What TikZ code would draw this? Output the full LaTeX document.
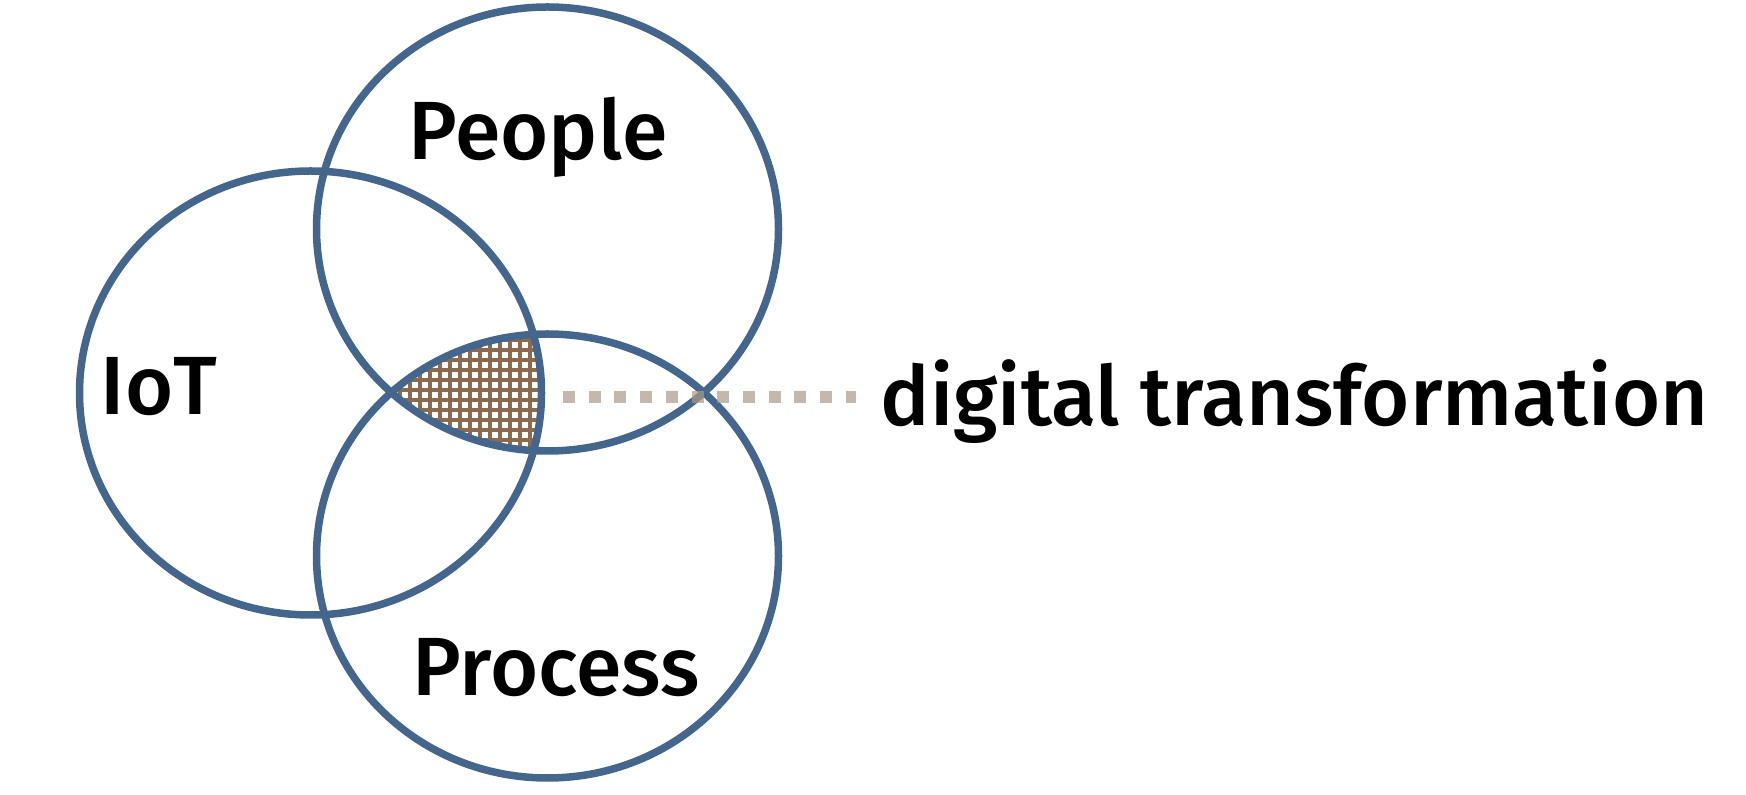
\documentclass[tikz,border=0pt]{standalone}
\usepackage{fontspec}
\setmainfont{Fira Sans Medium}
\usepackage{tikz}
\definecolor{venn}{RGB}{68,102,140}
\definecolor{hatch}{RGB}{139,106,79}
\definecolor{dots}{RGB}{171,152,135}

\begin{document}
\begin{tikzpicture}[line cap=round,line join=round,x=0.01cm,y=-0.01cm,
    word/.style={anchor=base west,inner sep=0pt,font=\fontsize{23.5}{28}\selectfont}]
    \useasboundingbox (0,0) rectangle (1746,795);
    % the part shared by all three
    \begin{scope}
        \clip (310.5,393) ellipse [x radius=231,y radius=222];
        \clip (547.5,229) ellipse [x radius=231,y radius=222];
        \clip (547.5,556) ellipse [x radius=231,y radius=222];
        \draw [hatch,line width=0.04cm,step=0.1cm,line cap=butt] (300,300) grid (600,500);
    \end{scope}
    \draw [venn,line width=0.075cm] (310.5,393) ellipse [x radius=231,y radius=222];
    \draw [venn,line width=0.075cm] (547.5,229) ellipse [x radius=231,y radius=222];
    \draw [venn,line width=0.075cm] (547.5,556) ellipse [x radius=231,y radius=222];
    \node [word] (iot) at (100,415) {IoT};
    \node [word] (people) at (408,160) {People};
    \node [word] (process) at (412,696) {Process};
    \node [word] (digital) at (880,426) {digital transformation};
    \coordinate (mid) at (563,397);
    \draw [dots,opacity=0.7,line width=0.12cm,line cap=butt,dash pattern=on 0.12cm off 0.137cm]
        (mid) -- ([xshift=-0.24cm]mid -| digital.west);
\end{tikzpicture}
\end{document}
